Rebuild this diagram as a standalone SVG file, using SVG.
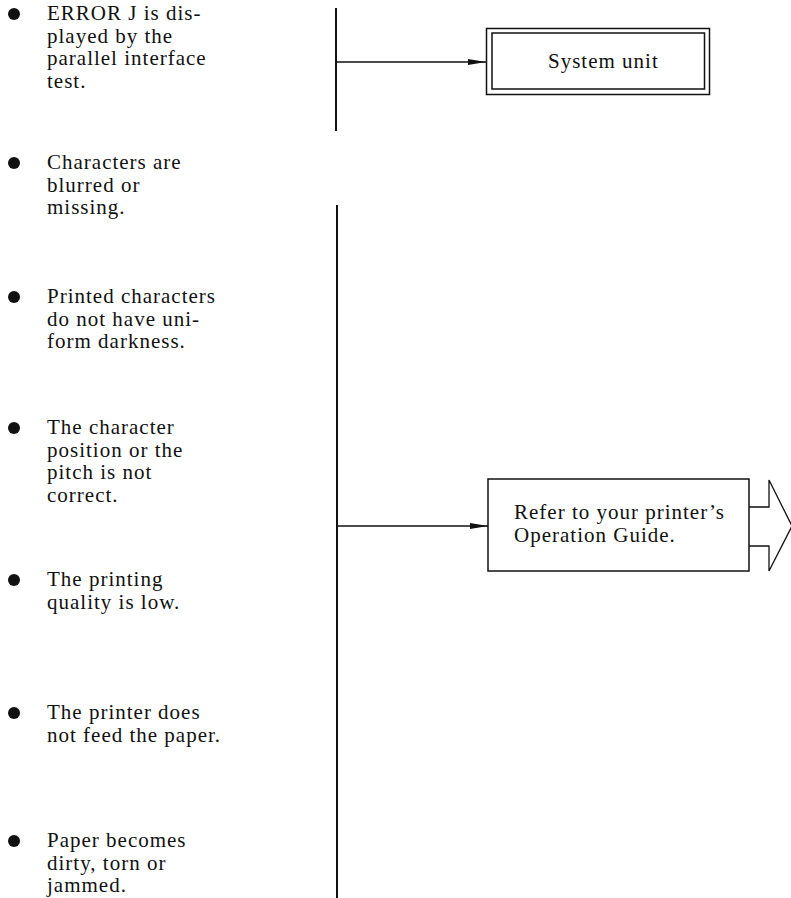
<svg xmlns="http://www.w3.org/2000/svg" width="791" height="898" viewBox="0 0 791 898">
<style>
  .t { font-family: "Liberation Serif", "Times New Roman", serif; font-size: 21px; letter-spacing: 1px; fill: #111; }
  .dot { fill: #111; }
  .vline { stroke: #111; stroke-width: 2; fill: none; }
  .hline { stroke: #111; stroke-width: 1.5; fill: none; }
  .box { stroke: #111; stroke-width: 1.5; fill: #fff; }
</style>
<defs>
  <marker id="ah" viewBox="0 0 18 6" refX="18" refY="3" markerWidth="18" markerHeight="6" markerUnits="userSpaceOnUse" orient="auto">
    <path d="M0,0 L18,3 L0,6 Z" fill="#111"/>
  </marker>
</defs>
<rect width="791" height="898" fill="#fff"/>

<g id="item1">
  <circle class="dot" cx="14" cy="14" r="6"/>
  <text class="t" x="47" y="20">ERROR J is dis-</text>
  <text class="t" x="47" y="42.5">played by the</text>
  <text class="t" x="47" y="65">parallel interface</text>
  <text class="t" x="47" y="87.5">test.</text>
</g>
<g id="item2">
  <circle class="dot" cx="14" cy="163" r="6"/>
  <text class="t" x="47" y="169">Characters are</text>
  <text class="t" x="47" y="191.5">blurred or</text>
  <text class="t" x="47" y="214">missing.</text>
</g>
<g id="item3">
  <circle class="dot" cx="14" cy="297" r="6"/>
  <text class="t" x="47" y="303">Printed characters</text>
  <text class="t" x="47" y="325.5">do not have uni-</text>
  <text class="t" x="47" y="348">form darkness.</text>
</g>
<g id="item4">
  <circle class="dot" cx="14" cy="428" r="6"/>
  <text class="t" x="47" y="434">The character</text>
  <text class="t" x="47" y="456.5">position or the</text>
  <text class="t" x="47" y="479">pitch is not</text>
  <text class="t" x="47" y="501.5">correct.</text>
</g>
<g id="item5">
  <circle class="dot" cx="14" cy="580" r="6"/>
  <text class="t" x="47" y="586">The printing</text>
  <text class="t" x="47" y="608.5">quality is low.</text>
</g>
<g id="item6">
  <circle class="dot" cx="14" cy="713" r="6"/>
  <text class="t" x="47" y="719">The printer does</text>
  <text class="t" x="47" y="741.5">not feed the paper.</text>
</g>
<g id="item7">
  <circle class="dot" cx="14" cy="841" r="6"/>
  <text class="t" x="47" y="847">Paper becomes</text>
  <text class="t" x="47" y="869.5">dirty, torn or</text>
  <text class="t" x="47" y="892">jammed.</text>
</g>

<g id="connectors">
  <line class="vline" x1="336" y1="8" x2="336" y2="131"/>
  <line class="hline" x1="336" y1="62" x2="486" y2="62" marker-end="url(#ah)"/>
  <line class="vline" x1="337" y1="205" x2="337" y2="898"/>
  <line class="hline" x1="337" y1="526" x2="488" y2="526" marker-end="url(#ah)"/>
</g>

<g id="system-unit">
  <rect class="box" x="486.5" y="28.5" width="223" height="66"/>
  <rect class="box" x="492" y="33" width="212.5" height="56" stroke-width="1.2"/>
  <text class="t" x="548" y="68">System unit</text>
</g>

<g id="refer-guide">
  <rect class="box" x="488" y="479" width="261" height="92"/>
  <text class="t" x="514" y="519">Refer to your printer’s</text>
  <text class="t" x="514" y="542">Operation Guide.</text>
</g>

<g id="next-arrow">
  <path d="M749,507 L769,507 L769,480 L792,526 L769,571 L769,546 L749,546" fill="none" stroke="#111" stroke-width="1.3" stroke-linejoin="miter"/>
</g>
</svg>
